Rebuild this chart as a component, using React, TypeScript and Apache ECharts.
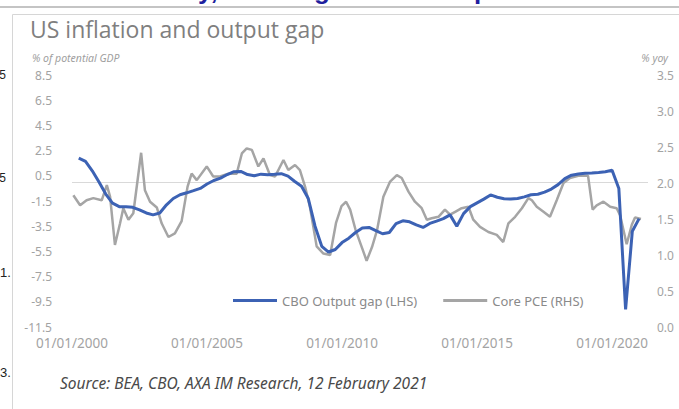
import React, { useEffect, useRef } from "react";
import * as echarts from "echarts";

// CBO output gap, % of potential GDP, quarterly 2000Q1..2020Q4 (plotted at quarter end)
const gapQuarters: number[] = Array.from({ length: 84 }, (_, i) => 2000 + 0.25 * (i + 1));
const outputGap: number[] = [
  1.9, 1.64, 0.9, 0.0, -0.95, -1.67, -1.95, -1.95, -2.0, -2.2,
  -2.45, -2.6, -2.45, -1.8, -1.3, -1.0, -0.85, -0.68, -0.5, -0.15,
  0.13, 0.32, 0.6, 0.83, 0.85, 0.6, 0.5, 0.63, 0.58, 0.62,
  0.67, 0.48, 0.05, -0.33, -1.3, -3.5, -5.1, -5.55, -5.35, -4.8,
  -4.45, -4.0, -3.65, -3.6, -3.85, -4.1, -4.0, -3.3, -3.07, -3.15,
  -3.4, -3.6, -3.28, -3.1, -2.9, -2.6, -3.5, -2.5, -1.95, -1.65,
  -1.35, -1.02, -1.2, -1.32, -1.35, -1.3, -1.17, -1.0, -0.96, -0.8,
  -0.55, -0.2, 0.27, 0.55, 0.65, 0.7, 0.73, 0.77, 0.82, 0.94,
  -0.5, -10.1, -3.9, -2.9,
];

// Core PCE, % yoy (dates as decimal years)
const pceDates: number[] = [
  2000.05, 2000.3, 2000.54, 2000.79, 2001.1, 2001.29, 2001.41, 2001.59, 2001.78, 2001.9,
  2002.09, 2002.27, 2002.56, 2002.7, 2002.89, 2003.14, 2003.32, 2003.57, 2003.81, 2004.06,
  2004.28, 2004.43, 2004.62, 2004.99, 2005.23, 2005.48, 2005.79, 2006.1, 2006.29, 2006.47,
  2006.66, 2006.9, 2007.09, 2007.33, 2007.52, 2007.83, 2008.01, 2008.26, 2008.44, 2008.63,
  2008.81, 2009.06, 2009.31, 2009.56, 2009.78, 2009.98, 2010.15, 2010.3, 2010.5, 2010.74,
  2010.91, 2011.11, 2011.3, 2011.53, 2011.78, 2012.03, 2012.21, 2012.46, 2012.7, 2012.95,
  2013.14, 2013.32, 2013.57, 2013.81, 2014.0, 2014.19, 2014.43, 2014.68, 2014.86, 2015.11,
  2015.42, 2015.73, 2015.97, 2016.16, 2016.41, 2016.66, 2016.9, 2017.03, 2017.21, 2017.46,
  2017.7, 2017.95, 2018.2, 2018.44, 2018.75, 2019.11, 2019.28, 2019.43, 2019.68, 2019.93,
  2020.17, 2020.3, 2020.54, 2020.73, 2020.85, 2021.07,
];
const corePce: number[] = [
  1.83, 1.69, 1.76, 1.79, 1.76, 1.97, 1.81, 1.14, 1.44, 1.65,
  1.49, 1.58, 2.42, 1.9, 1.74, 1.66, 1.44, 1.25, 1.3, 1.47,
  1.95, 2.13, 2.04, 2.23, 2.09, 2.09, 2.13, 2.13, 2.41, 2.48,
  2.46, 2.23, 2.34, 2.11, 2.09, 2.32, 2.18, 2.25, 2.18, 1.95,
  1.67, 1.12, 1.02, 1.0, 1.45, 1.68, 1.74, 1.63, 1.35, 1.1,
  0.92, 1.11, 1.35, 1.81, 2.02, 2.11, 2.07, 1.88, 1.74, 1.65,
  1.49, 1.51, 1.53, 1.63, 1.56, 1.6, 1.65, 1.67, 1.49, 1.39,
  1.32, 1.28, 1.18, 1.44, 1.53, 1.65, 1.79, 1.76, 1.67, 1.6,
  1.53, 1.76, 2.0, 2.07, 2.1, 2.1, 1.63, 1.69, 1.74, 1.67,
  1.65, 1.55, 1.15, 1.42, 1.52, 1.5,
];

const seriesNames = ["CBO Output gap (LHS)", "Core PCE (RHS)"];
const LEFT_OFFSET = 11.5; // left axis runs -11.5..8.5; shifted so ticks start at 0

export default function App() {
  const ref = useRef<HTMLDivElement>(null);
  useEffect(() => {
    if (!ref.current) return;
    const chart = echarts.init(ref.current, null, { renderer: "svg" });
    const labelColor = "#a3a3a3";
    chart.setOption({
      animation: false,
      backgroundColor: "#ffffff",
      grid: { left: 72, right: 31, top: 75, bottom: 82, containLabel: false },
      xAxis: {
        type: "value",
        min: 2000,
        max: 2021.33,
        interval: 5,
        axisLine: { show: false },
        axisTick: { show: false },
        splitLine: { show: false },
        axisLabel: {
          margin: 9,
          color: labelColor,
          fontFamily: "Noto Sans",
          fontSize: 13.5,
          showMaxLabel: false,
          formatter: (v: number) => (v % 5 === 0 ? "01/01/" + v : ""),
        },
      },
      yAxis: [
        {
          type: "value",
          min: 0,
          max: 20,
          interval: 2,
          axisLine: { show: false },
          axisTick: { show: false },
          splitLine: { show: false },
          axisLabel: {
            margin: 20,
            color: labelColor,
            fontFamily: "Noto Sans",
            fontSize: 12,
            formatter: (v: number) => (v - LEFT_OFFSET).toFixed(1),
          },
        },
        {
          type: "value",
          min: 0,
          max: 3.5,
          interval: 0.5,
          axisLine: { show: false },
          axisTick: { show: false },
          splitLine: { show: false },
          axisLabel: {
            margin: 9,
            color: labelColor,
            fontFamily: "Noto Sans",
            fontSize: 12,
            formatter: (v: number) => v.toFixed(1),
          },
        },
      ],
      legend: {
        left: 228,
        top: 289,
        icon: "rect",
        itemWidth: 44,
        itemHeight: 3,
        itemGap: 26,
        textStyle: { color: "#8a8a8a", fontFamily: "Noto Sans", fontSize: 13 },
        data: seriesNames,
      },
      series: [
        {
          name: seriesNames[1],
          type: "line",
          yAxisIndex: 1,
          symbol: "none",
          z: 2,
          lineStyle: { color: "#a5a5a5", width: 2.5 },
          itemStyle: { color: "#a5a5a5" },
          data: pceDates.map((d, i) => [d, corePce[i]]),
        },
        {
          name: seriesNames[0],
          type: "line",
          yAxisIndex: 0,
          symbol: "none",
          z: 3,
          lineStyle: { color: "#3c62b4", width: 3 },
          itemStyle: { color: "#3c62b4" },
          data: gapQuarters.map((d, i) => [d, outputGap[i] + LEFT_OFFSET]),
          markLine: {
            silent: true,
            symbol: "none",
            label: { show: false },
            lineStyle: { color: "#d9d9d9", width: 1, type: "solid" },
            data: [{ yAxis: 0 + LEFT_OFFSET }],
            z: 1,
          },
        },
      ],
      graphic: [
        { type: "rect", shape: { x: 12.5, y: 14.5, width: 700, height: 420 }, style: { fill: "none", stroke: "#d6d6d6", lineWidth: 1 }, silent: true },
        { type: "text", x: 198, y: -10, style: { text: "y,", fill: "#1f1f9e", font: "bold 26px 'Liberation Sans'", verticalAlign: "middle" } },
        { type: "text", x: 314, y: -10, style: { text: "g", fill: "#1f1f9e", font: "bold 26px 'Liberation Sans'", verticalAlign: "middle" } },
        { type: "text", x: 474, y: -10, style: { text: "p", fill: "#1f1f9e", font: "bold 26px 'Liberation Sans'", verticalAlign: "middle" } },
        { type: "line", shape: { x1: 0, y1: 7, x2: 679, y2: 7 }, style: { stroke: "#c4c4c4", lineWidth: 2 }, silent: true },
        { type: "text", x: -4, y: 75, style: { text: ".5", fill: "#222", font: "12px 'Liberation Sans'", verticalAlign: "middle" } },
        { type: "text", x: -4, y: 178, style: { text: ".5", fill: "#222", font: "12px 'Liberation Sans'", verticalAlign: "middle" } },
        { type: "text", x: 0, y: 272, style: { text: "1.", fill: "#222", font: "13px 'Liberation Sans'", verticalAlign: "middle" } },
        { type: "text", x: 0, y: 372, style: { text: "3.", fill: "#222", font: "13px 'Liberation Sans'", verticalAlign: "middle" } },
        { type: "text", x: 30, y: 29, style: { text: "US inflation and output gap", fill: "#7f7f7f", font: "23px 'Open Sans'", verticalAlign: "middle" } },
        { type: "text", x: 32, y: 58, style: { text: "% of potential GDP", fill: "#a0a0a0", font: "italic 10.5px 'Noto Sans'", verticalAlign: "middle" } },
        { type: "text", x: 668, y: 58, style: { text: "% yoy", fill: "#a0a0a0", font: "italic 10.5px 'Noto Sans'", verticalAlign: "middle", align: "right" } },
        { type: "text", x: 60, y: 383, style: { text: "Source: BEA, CBO, AXA IM Research, 12 February 2021", fill: "#4a4a4a", font: "italic 15.5px 'Noto Sans'", verticalAlign: "middle" } },
      ],
    });
    return () => chart.dispose();
  }, []);
  return <div ref={ref} style={{ position: "fixed", left: 0, top: 0, width: 679, height: 409 }} />;
}
